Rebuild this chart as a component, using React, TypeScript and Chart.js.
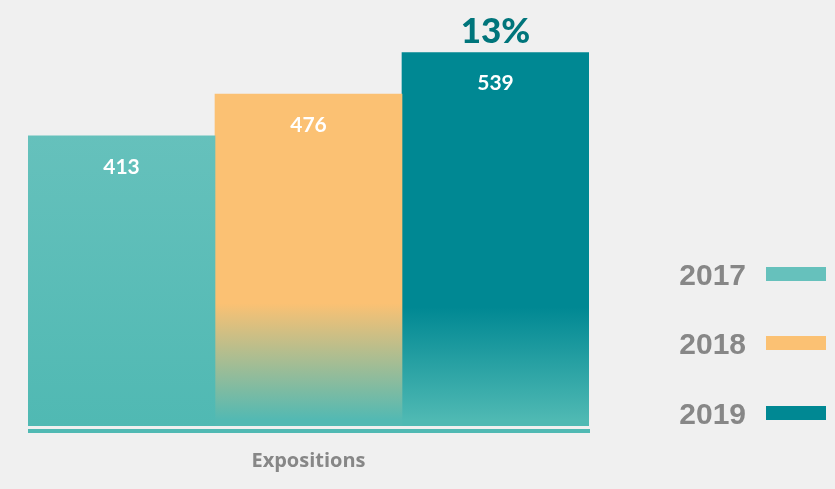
import React, { useEffect, useRef } from "react";
import { Chart, registerables } from "chart.js";

Chart.register(...registerables);

const categories = ["Expositions"];
const years = ["2017", "2018", "2019"];
const values2017 = [413];
const values2018 = [476];
const values2019 = [539];
const growthLabel = "13%";

const Y_MIN = -26;
const Y_MAX = 573;

const teal = "#50b9b3";

function makeGradient(chart: any, top: string, bottom: string, solidUntil: number) {
  const area = chart.chartArea;
  if (!area) return top;
  const g = chart.ctx.createLinearGradient(0, area.top, 0, area.bottom);
  g.addColorStop(0, top);
  g.addColorStop(solidUntil, top);
  g.addColorStop(0.985, bottom);
  g.addColorStop(1, bottom);
  return g;
}

const valueLabels = {
  id: "valueLabels",
  afterDatasetsDraw(chart: any) {
    const ctx = chart.ctx;
    ctx.save();
    ctx.fillStyle = "#ffffff";
    ctx.font = "bold 21px Lato";
    ctx.textAlign = "center";
    ctx.textBaseline = "middle";
    chart.data.datasets.forEach((ds: any, i: number) => {
      const meta = chart.getDatasetMeta(i);
      meta.data.forEach((bar: any, j: number) => {
        ctx.fillText(String(ds.data[j]), bar.x, bar.y + 31);
      });
    });
    // growth label above last bar
    const last = chart.getDatasetMeta(chart.data.datasets.length - 1).data[0];
    ctx.fillStyle = "#00757b";
    ctx.font = "900 35px Lato";
    ctx.fillText(growthLabel, last.x, last.y - 21);
    // baseline
    const a = chart.chartArea;
    ctx.fillStyle = teal;
    ctx.fillRect(a.left, a.bottom + 3, a.right - a.left + 1, 4);
    // legend
    const swatches = ["#66c1bc", "#fbc173", "#008893"];
    const ys = [274, 343, 413];
    ctx.font = "bold 30px 'Liberation Sans'";
    ctx.textAlign = "right";
    years.forEach((y, i) => {
      ctx.fillStyle = "#878787";
      ctx.fillText(y, 746, ys[i] + 3);
      ctx.fillStyle = swatches[i];
      ctx.fillRect(766, ys[i] - 7, 60, 14);
    });
    ctx.restore();
  },
};

export default function App() {
  const ref = useRef<HTMLCanvasElement>(null);
  useEffect(() => {
    if (!ref.current) return;
    const chart = new Chart(ref.current, {
      type: "bar",
      data: {
        labels: categories,
        datasets: [
          {
            label: years[0],
            data: values2017,
            base: Y_MIN,
            backgroundColor: (c: any) => {
              const area = c.chart.chartArea;
              if (!area) return "#66c1bc";
              const g = c.chart.ctx.createLinearGradient(0, area.top + 100, 0, area.bottom);
              g.addColorStop(0, "#66c1bc");
              g.addColorStop(1, "#50b9b3");
              return g;
            },
          },
          {
            label: years[1],
            data: values2018,
            base: Y_MIN,
            backgroundColor: (c: any) => makeGradient(c.chart, "#fbc173", "#52b9b3", 0.69),
          },
          {
            label: years[2],
            data: values2019,
            base: Y_MIN,
            backgroundColor: (c: any) => makeGradient(c.chart, "#008893", "#4fb9b3", 0.7),
          },
        ],
      },
      options: {
        animation: false,
        responsive: false,
        layout: { padding: { top: 30, left: 28, right: 246, bottom: -7 } },
        plugins: { legend: { display: false }, tooltip: { enabled: false } },
        datasets: { bar: { barPercentage: 1, categoryPercentage: 1 } },
        scales: {
          x: {
            grid: { display: false, drawTicks: false },
            border: { display: false },
            ticks: {
              color: "#878787",
              font: { family: "Open Sans", weight: "bold", size: 20 },
              padding: 23,
            },
          },
          y: { display: false, min: Y_MIN, max: Y_MAX },
        },
      },
      plugins: [valueLabels],
    } as any);
    return () => chart.destroy();
  }, []);
  return (
    <div style={{ position: "fixed", left: 0, top: 0, width: 835, height: 489, background: "#f0f0f0" }}>
      <canvas ref={ref} width={835} height={489} style={{ width: 835, height: 489 }} />
    </div>
  );
}
